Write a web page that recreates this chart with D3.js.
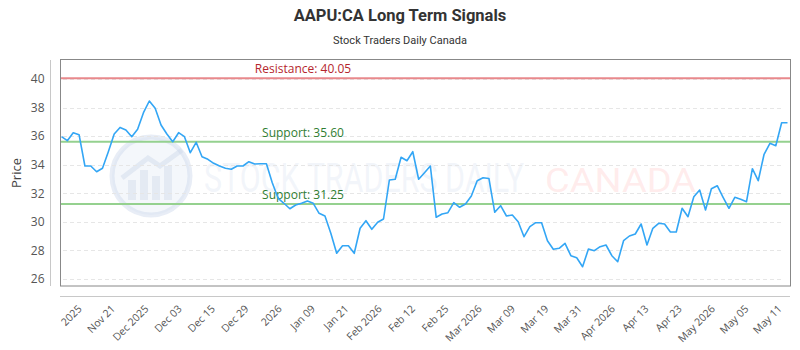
<!DOCTYPE html>
<html>
<head>
<meta charset="utf-8">
<script src="https://cdn.jsdelivr.net/npm/d3@7"></script>
<style>
  body { margin: 0; background: #fff; }
  svg { display: block; }
</style>
</head>
<body>
<svg id="chart" width="800" height="350"></svg>
<script>
'use strict';

// closing prices, one per session
const prices = [
    35.96, 35.68, 36.24, 36.10, 33.91, 33.91, 33.51, 33.75, 34.91, 36.15, 36.61,
    36.43, 35.96, 36.48, 37.64, 38.46, 37.95, 36.78, 36.15, 35.61, 36.24, 35.96,
    34.84, 35.57, 34.56, 34.38, 34.10, 33.91, 33.75, 33.68, 33.91, 33.91, 34.21,
    34.05, 34.07, 34.07, 32.74, 31.65, 31.30, 30.92, 31.18, 31.30, 31.46,
    31.30, 30.60, 30.41, 29.20, 27.80, 28.33, 28.33, 27.80, 29.55, 30.08, 29.48,
    29.97, 30.20, 32.93, 32.98, 34.52, 34.28, 34.91, 32.98, 33.44, 33.91,
    30.32, 30.55, 30.64, 31.34, 31.02, 31.25, 31.81, 32.88, 33.09, 33.04, 30.67,
    31.13, 30.41, 30.48, 30.01, 28.96, 29.66, 29.94, 29.94, 28.68, 28.08, 28.15,
    28.50, 27.63, 27.49, 26.86, 28.10, 27.98, 28.26, 28.38, 27.63, 27.21, 28.68,
    29.01, 29.15, 29.85, 28.38, 29.55, 29.90, 29.85, 29.29, 29.29, 30.95,
    30.36, 31.76, 32.23, 30.83, 32.32, 32.53, 31.72, 30.95, 31.72, 31.58, 31.41,
    33.72, 32.88, 34.73, 35.50, 35.33, 36.94, 36.94
];

const xLabels = [
    '2025', 'Nov 21', 'Dec 2025', 'Dec 03', 'Dec 15', 'Dec 29', '2026', 'Jan 09',
    'Jan 21', 'Feb 2026', 'Feb 12', 'Feb 25', 'Mar 2026', 'Mar 09', 'Mar 19',
    'Mar 31', 'Apr 2026', 'Apr 13', 'Apr 23', 'May 2026', 'May 05', 'May 11'
];

const yTicks = [26, 28, 30, 32, 34, 36, 38, 40];

const levelNames = ['Resistance', 'Support', 'Support'];
const levelValues = [40.05, 35.60, 31.25];

const BOX_LEFT = 60;
const BOX_RIGHT = 790;
const BOX_TOP = 60;
const BOX_BOTTOM = 286;
const LINE_PAD = 1.5;

const svg = d3.select('#chart');

const x = d3.scaleLinear()
    .domain([0, prices.length - 1])
    .range([BOX_LEFT + LINE_PAD, BOX_RIGHT - 2.5]);

const y = d3.scaleLinear()
    .domain([25.51, 41.33])
    .range([BOX_BOTTOM, BOX_TOP]);

const xLabelPos = d3.scalePoint()
    .domain(xLabels)
    .range([83, 783]);

// titles
svg.append('text')
    .attr('x', 400)
    .attr('y', 21)
    .attr('text-anchor', 'middle')
    .style('font-family', 'Roboto, sans-serif')
    .style('font-weight', 'bold')
    .style('font-size', '16.5px')
    .style('fill', '#333')
    .text('AAPU:CA Long Term Signals');

svg.append('text')
    .attr('x', 400)
    .attr('y', 44)
    .attr('text-anchor', 'middle')
    .style('font-family', 'Roboto, sans-serif')
    .style('font-size', '11px')
    .style('fill', '#333')
    .text('Stock Traders Daily Canada');

// watermark
const mark = svg.append('g').attr('class', 'watermark');

mark.append('circle')
    .attr('cx', 151)
    .attr('cy', 176)
    .attr('r', 39)
    .style('fill', 'rgba(218,228,242,0.3)')
    .style('stroke', 'rgba(205,216,236,0.45)')
    .style('stroke-width', 5);

mark.selectAll('.wm-bar')
    .data([[128, 20], [140, 30], [152, 24], [164, 34]])
    .enter()
    .append('rect')
    .attr('class', 'wm-bar')
    .attr('x', (d) => d[0])
    .attr('y', (d) => 200 - d[1])
    .attr('width', 8)
    .attr('height', (d) => d[1])
    .style('fill', 'rgba(205,214,232,0.4)');

mark.append('path')
    .attr('d', 'M122,178 L148,158 L160,166 L182,150')
    .style('fill', 'none')
    .style('stroke', 'rgba(205,214,232,0.45)')
    .style('stroke-width', 5);

mark.append('text')
    .attr('x', 204)
    .attr('y', 192)
    .attr('textLength', 320)
    .attr('lengthAdjust', 'spacingAndGlyphs')
    .style('font-family', 'Roboto, sans-serif')
    .style('font-size', '40px')
    .style('fill', 'rgba(212,222,238,0.3)')
    .text('STOCK TRADERS DAILY');

mark.append('text')
    .attr('x', 545)
    .attr('y', 192)
    .attr('textLength', 151)
    .attr('lengthAdjust', 'spacingAndGlyphs')
    .style('font-family', 'Roboto, sans-serif')
    .style('font-size', '33px')
    .style('fill', 'rgba(255,195,195,0.32)')
    .text('CANADA');

// grid
svg.append('g')
    .selectAll('line')
    .data(yTicks)
    .enter()
    .append('line')
    .attr('x1', 63)
    .attr('x2', 783)
    .attr('y1', (d) => Math.round(y(d)) + 0.5)
    .attr('y2', (d) => Math.round(y(d)) + 0.5)
    .style('stroke', '#e6e6e6')
    .style('stroke-dasharray', '4,3');

// plot frame
svg.append('rect')
    .attr('x', BOX_LEFT + 0.5)
    .attr('y', BOX_TOP - 0.5)
    .attr('width', BOX_RIGHT - BOX_LEFT)
    .attr('height', BOX_BOTTOM - BOX_TOP + 0.5)
    .style('fill', 'none')
    .style('stroke', '#888')
    .style('stroke-width', 1);

// y axis
const yAxis = d3.axisLeft(y)
    .tickValues(yTicks)
    .tickSize(0)
    .tickPadding(6);

const gY = svg.append('g')
    .attr('transform', 'translate(50.5,0)')
    .call(yAxis);

gY.select('.domain')
    .attr('d', 'M0,' + BOX_TOP + 'V' + BOX_BOTTOM)
    .style('stroke', '#c8c8c8');

gY.selectAll('.tick text')
    .style('font-family', '"Open Sans", sans-serif')
    .style('font-size', '12px')
    .style('fill', '#555');

svg.append('text')
    .attr('transform', 'translate(21,173) rotate(-90)')
    .attr('text-anchor', 'middle')
    .style('font-family', '"Open Sans", sans-serif')
    .style('font-size', '13px')
    .style('fill', '#444')
    .text('Price');

// x axis
const xAxis = d3.axisBottom(xLabelPos)
    .tickSize(0)
    .tickPadding(0);

const gX = svg.append('g')
    .attr('transform', 'translate(0,296.5)')
    .call(xAxis);

gX.select('.domain')
    .attr('d', 'M' + BOX_LEFT + ',0H' + BOX_RIGHT)
    .style('stroke', '#c8c8c8');

gX.selectAll('.tick text')
    .attr('y', 0)
    .attr('dy', 0)
    .attr('transform', 'translate(-1,13) rotate(-45)')
    .style('text-anchor', 'end')
    .style('font-family', '"Open Sans", sans-serif')
    .style('font-size', '10.5px')
    .style('fill', '#555');

// support / resistance levels
const levels = levelValues.map((value, i) => ({name: levelNames[i], value: value}));

svg.append('g')
    .selectAll('line')
    .data(levels)
    .enter()
    .append('line')
    .attr('x1', BOX_LEFT + 1)
    .attr('x2', BOX_RIGHT)
    .attr('y1', ({value}) => y(value))
    .attr('y2', ({value}) => y(value))
    .style('stroke', ({name}) => name === 'Resistance' ? '#e8898c' : '#95d18f')
    .style('stroke-width', 2);

svg.append('g')
    .selectAll('text')
    .data(levels)
    .enter()
    .append('text')
    .attr('x', 303)
    .attr('y', ({value}) => y(value) - 5)
    .attr('text-anchor', 'middle')
    .style('font-family', '"Open Sans", sans-serif')
    .style('font-size', '12px')
    .style('fill', ({name}) => name === 'Resistance' ? '#b5262d' : '#2f7d32')
    .text(({name, value}) => name + ': ' + value.toFixed(2));

// price line
const line = d3.line()
    .x((d, i) => x(i))
    .y((d) => y(d));

svg.append('path')
    .datum(prices)
    .attr('d', line)
    .style('fill', 'none')
    .style('stroke', '#33a6f5')
    .style('stroke-width', 1.6)
    .style('stroke-linejoin', 'round');
</script>
</body>
</html>
